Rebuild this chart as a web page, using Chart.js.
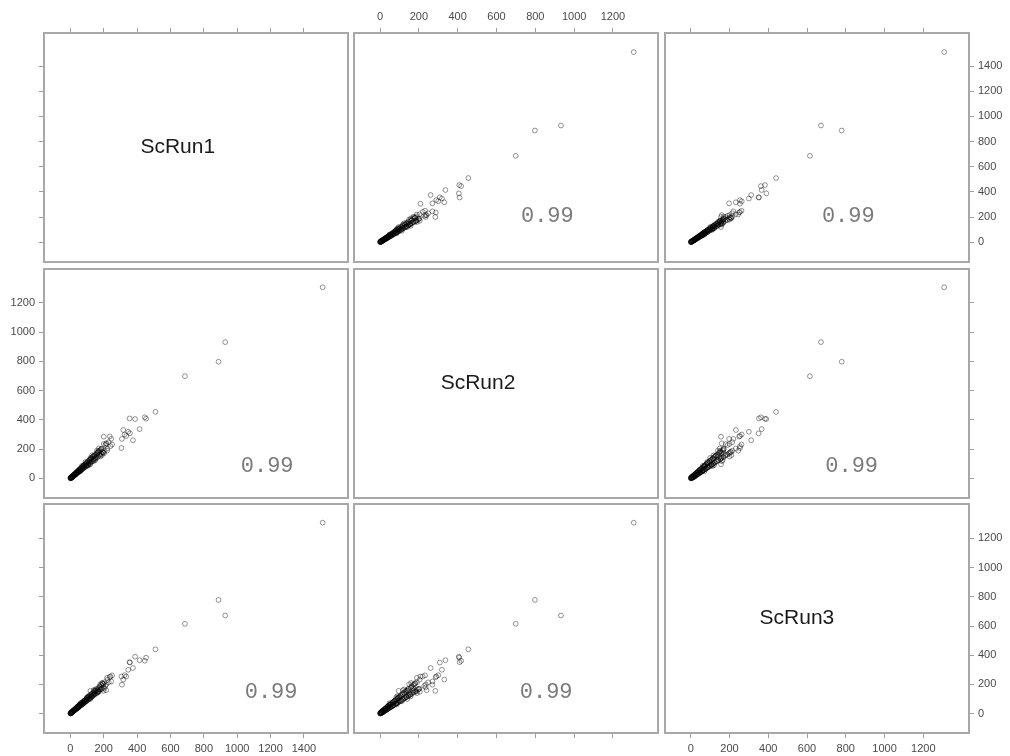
<!DOCTYPE html>
<html>
<head>
<meta charset="utf-8">
<script src="https://cdn.jsdelivr.net/npm/chart.js@4.4.1/dist/chart.umd.min.js"></script>
<style>
  html, body { margin: 0; padding: 0; background: #fff; }
  #wrap { position: relative; width: 1010px; height: 756px; overflow: hidden; background: #fff; }
  #wrap canvas { position: absolute; }
</style>
</head>
<body>
<div id="wrap"></div>
<script>
// ─── Data ─────────────────────────────────────────────────────────────────────

const varNames = ['ScRun1', 'ScRun2', 'ScRun3'];

const s1Values = [
  0, 1, 2, 3, 4, 5, 6, 8, 9, 10, 12, 13, 15, 16, 18, 19, 21, 22, 24, 26,
  27, 29, 31, 33, 35, 36, 38, 40, 42, 44, 46, 48, 50, 52, 54, 56, 58, 60, 62, 65,
  67, 69, 72, 74, 77, 79, 82, 85, 88, 91, 94, 97, 100, 104, 108, 112, 116, 120, 125, 130,
  135, 140, 146, 152, 158, 165, 172, 180, 188, 197,
  2, 7, 11, 17, 23, 30, 37, 43, 49, 55, 61, 68, 75, 81, 87, 93, 99, 106, 113, 119,
  127, 134, 143, 150, 160, 170, 182, 195, 210, 222,
  14, 34, 57, 78, 102, 124, 148, 176, 205, 230, 250, 168, 186, 215, 138,
  90, 110, 130, 150, 170, 190, 120, 140, 160, 180, 200, 100, 70, 60, 220, 245,
  3, 9, 14, 20, 25, 32, 39, 45, 51, 57, 63, 71, 78, 84, 92, 98, 105, 111, 118, 126,
  133, 141, 149, 157, 166, 175, 185, 194, 163, 145,
  510, 454, 446, 388, 355, 375, 415, 335, 325, 317, 306, 309, 236, 215, 202, 120, 200, 357, 347, 240,
  687, 888, 928, 1512,
];

const s2Values = [
  1, 0, 3, 2, 6, 4, 8, 6, 11, 9, 14, 11, 17, 14, 20, 17, 24, 19, 27, 23,
  31, 26, 35, 29, 39, 32, 43, 36, 47, 40, 51, 43, 56, 47, 60, 50, 64, 54, 69, 58,
  74, 62, 79, 66, 84, 71, 90, 75, 96, 80, 103, 86, 110, 92, 118, 99, 127, 106, 136, 115,
  147, 124, 158, 134, 171, 146, 186, 160, 202, 176,
  5, 3, 15, 13, 28, 25, 41, 38, 54, 51, 67, 63, 82, 76, 94, 88, 107, 100, 122, 112,
  138, 126, 156, 141, 175, 159, 198, 181, 228, 204,
  10, 38, 52, 86, 95, 133, 138, 190, 190, 248, 232, 186, 170, 236, 152,
  112, 90, 158, 125, 205, 160, 140, 118, 190, 150, 235, 84, 86, 48, 190, 270,
  5, 7, 17, 18, 29, 29, 43, 41, 57, 53, 70, 66, 85, 79, 101, 91, 115, 104, 129, 117,
  146, 131, 163, 146, 181, 163, 201, 180, 172, 150,
  455, 408, 418, 406, 410, 261, 337, 290, 300, 331, 208, 270, 287, 240, 172, 96, 285, 308, 319, 220,
  699, 798, 932, 1307,
];

const s3Values = [
  0, 2, 1, 4, 3, 7, 5, 9, 8, 12, 10, 15, 13, 18, 16, 21, 19, 25, 22, 28,
  25, 32, 28, 36, 31, 39, 35, 43, 38, 47, 42, 51, 45, 56, 49, 60, 53, 64, 57, 68,
  61, 73, 65, 78, 70, 83, 74, 88, 79, 94, 85, 100, 90, 107, 97, 115, 104, 123, 112, 133,
  121, 143, 131, 155, 143, 168, 156, 182, 170, 200,
  4, 6, 9, 20, 21, 33, 34, 48, 44, 59, 55, 72, 68, 86, 79, 98, 89, 113, 102, 126,
  115, 141, 130, 158, 147, 178, 166, 205, 190, 232,
  17, 30, 62, 72, 108, 116, 156, 165, 215, 214, 262, 150, 196, 200, 128,
  84, 120, 118, 165, 150, 210, 100, 160, 140, 200, 180, 112, 62, 70, 245, 220,
  2, 11, 12, 23, 23, 35, 36, 50, 47, 62, 58, 77, 71, 90, 85, 106, 97, 119, 109, 135,
  122, 152, 137, 169, 152, 188, 170, 208, 158, 140,
  440, 383, 362, 390, 352, 312, 366, 254, 263, 233, 254, 198, 250, 160, 170, 156, 156, 350, 300, 254,
  615, 779, 672, 1308,
];

const s1Ticks = [0, 200, 400, 600, 800, 1000, 1200, 1400];
const s2Ticks = [0, 200, 400, 600, 800, 1000, 1200];
const s3Ticks = [0, 200, 400, 600, 800, 1000, 1200];

// correlation printed in the off-diagonal panels
const corrText = [
  [null,   '0.99', '0.99'],
  ['0.99', null,   '0.99'],
  ['0.99', '0.99', null  ],
];

// ─── Layout ───────────────────────────────────────────────────────────────────

const seriesList = [s1Values, s2Values, s3Values];
const tickList   = [s1Ticks, s2Ticks, s3Ticks];

const panelLeft = [44, 354, 665];
const panelTop  = [33, 269, 504];
const PW = 304, PH = 229;
const ML = 40, MR = 41, MT = 30, MB = 23;

// same usr range for a variable whether it is on x or y
const axisRange = [
  { min: -158, max: 1664 },
  { min: -134, max: 1432 },
  { min: -133, max: 1436 },
];

// text anchors as fractions of the panel box
const namePos = [[0.44, 0.50], [0.408, 0.50], [0.434, 0.50]];
const corrPos = [
  [null,           [0.636, 0.802], [0.603, 0.802]],
  [[0.734, 0.859], null,           [0.614, 0.862]],
  [[0.747, 0.821], [0.632, 0.821], null          ],
];

const tickFont = { family: '"Liberation Sans", Arial, sans-serif', size: 11 };

// ─── Plugin: text in a panel ─────────────────────────────────────────────────

const panelText = {
  id: 'panelText',
  afterDatasetsDraw(chart, args, opts) {
    if (!opts.text) return;
    const { ctx, chartArea: a } = chart;
    ctx.save();
    ctx.font = opts.font;
    ctx.fillStyle = opts.color;
    ctx.textAlign = 'center';
    ctx.textBaseline = 'middle';
    ctx.fillText(opts.text, a.left + opts.fx * a.width, a.top + opts.fy * a.height);
    ctx.restore();
  },
};

function makeAxis(pos, v, showTicks, showLabels) {
  const r = axisRange[v];
  return {
    type: 'linear',
    position: pos,
    min: r.min,
    max: r.max,
    afterBuildTicks: s => { s.ticks = tickList[v].map(value => ({ value })); },
    afterFit: s => {
      if (pos === 'left')   s.width  = ML;
      if (pos === 'right')  s.width  = MR;
      if (pos === 'top')    s.height = MT;
      if (pos === 'bottom') s.height = MB;
      s.paddingLeft = s.paddingRight = s.paddingTop = s.paddingBottom = 0;
    },
    grid: {
      display: showTicks,
      drawOnChartArea: false,
      drawTicks: true,
      tickLength: 5,
      color: '#9d9d9d',
      lineWidth: 1,
    },
    border: { display: true, color: '#a8a8a8', width: 2 },
    ticks: {
      display: showLabels,
      padding: 4,
      color: '#4a4a4a',
      font: tickFont,
      maxRotation: 0,
      autoSkip: false,
      callback: value => String(value),
    },
  };
}

// ─── Build the 3x3 matrix ─────────────────────────────────────────────────────

const wrap = document.getElementById('wrap');

for (let r = 0; r < 3; r++) {
  for (let c = 0; c < 3; c++) {
    const canvas = document.createElement('canvas');
    canvas.width  = PW + ML + MR;
    canvas.height = PH + MT + MB;
    canvas.style.left   = (panelLeft[c] - ML) + 'px';
    canvas.style.top    = (panelTop[r] - MT) + 'px';
    canvas.style.width  = canvas.width + 'px';
    canvas.style.height = canvas.height + 'px';
    wrap.appendChild(canvas);

    const diag = r === c;
    const xs = seriesList[c];
    const ys = seriesList[r];
    const points = diag ? [] : xs.map((x, i) => ({ x, y: ys[i] }));

    const textOpts = diag
      ? { text: varNames[r], fx: namePos[r][0], fy: namePos[r][1],
          font: '21px "Liberation Sans", Arial, sans-serif', color: '#1a1a1a' }
      : { text: corrText[r][c], fx: corrPos[r][c][0], fy: corrPos[r][c][1],
          font: '22px "Liberation Mono", "DejaVu Sans Mono", monospace', color: '#7a7a7a' };

    new Chart(canvas, {
      type: 'scatter',
      data: {
        datasets: [{
          data: points,
          pointRadius: 2.4,
          borderWidth: 1,
          pointBorderColor: 'rgba(0, 0, 0, 0.42)',
          pointBackgroundColor: 'rgba(0, 0, 0, 0)',
          borderColor: 'rgba(0, 0, 0, 0.42)',
          backgroundColor: 'rgba(0, 0, 0, 0)',
        }],
      },
      options: {
        responsive: false,
        animation: false,
        events: [],
        layout: { padding: 0 },
        scales: {
          x:  makeAxis('bottom', c, r === 2, r === 2 && c !== 1),
          xt: makeAxis('top',    c, r === 0, r === 0 && c === 1),
          y:  makeAxis('left',   r, c === 0, c === 0 && r === 1),
          yr: makeAxis('right',  r, c === 2, c === 2 && r !== 1),
        },
        plugins: {
          legend:  { display: false },
          tooltip: { enabled: false },
          panelText: textOpts,
        },
      },
      plugins: [panelText],
    });
  }
}
</script>
</body>
</html>
